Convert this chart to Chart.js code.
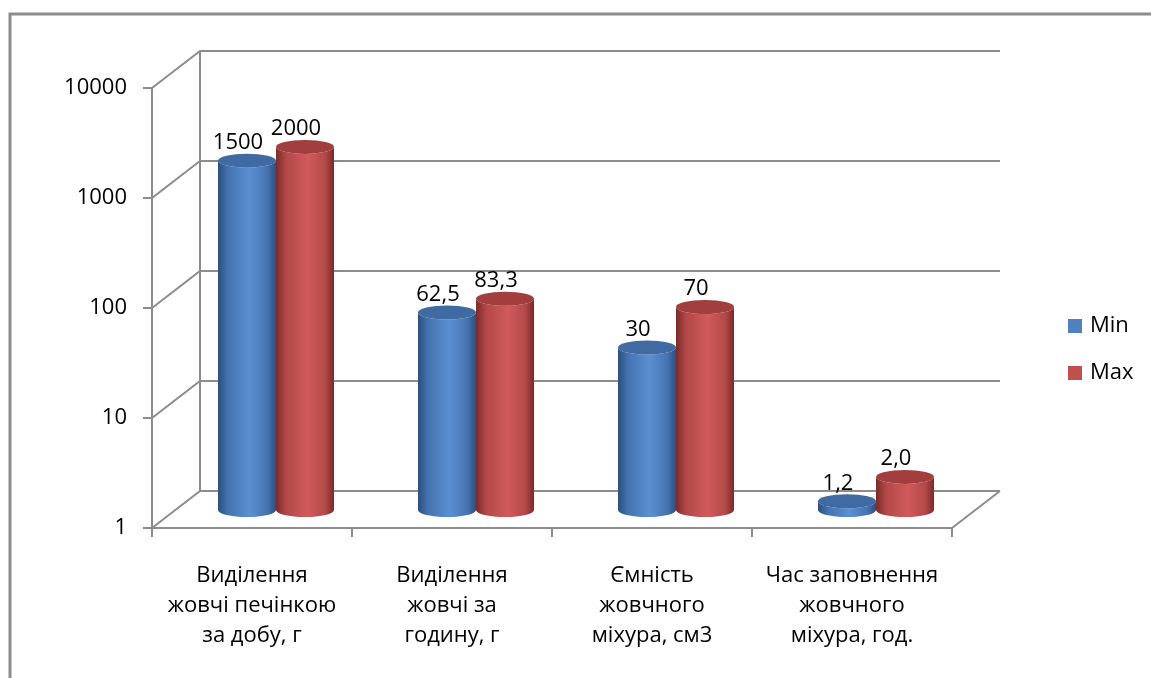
<!DOCTYPE html>
<html>
<head>
<meta charset="utf-8">
<script src="https://cdn.jsdelivr.net/npm/chart.js@4"></script>
<style>
  body { margin: 0; background: #fff; }
  #wrap { width: 1151px; height: 678px; }
</style>
</head>
<body>
<div id="wrap"><canvas id="chart1" width="1151" height="678"></canvas></div>
<script>
var categories = [
    ['Виділення', 'жовчі печінкою', 'за добу, г'],
    ['Виділення', 'жовчі за', 'годину, г'],
    ['Ємність', 'жовчного', 'міхура, см3'],
    ['Час заповнення', 'жовчного', 'міхура, год.']
];
var minValues = [1500, 62.5, 30, 1.2];
var maxValues = [2000, 83.3, 70, 2.0];
var minLabels = ['1500', '62,5', '30', '1,2'];
var maxLabels = ['2000', '83,3', '70', '2,0'];
var yTicks = [1, 10, 100, 1000, 10000];

var FONT = '"Open Sans", "Noto Sans", sans-serif';
var FSIZE = 22;
var GRAY = '#8c8c8c';
var DX = 24, DY = -18;   // offset of the bar plane from the front axis
var BX = 48, BY = -37;   // offset of the back wall

function cylGradient(ctx, left, right, dark, mid, light) {
    var g = ctx.createLinearGradient(left, 0, right, 0);
    g.addColorStop(0, dark);
    g.addColorStop(0.18, mid);
    g.addColorStop(0.55, light);
    g.addColorStop(0.85, mid);
    g.addColorStop(1, dark);
    return g;
}

var colors = [
    { dark: '#2c4f7e', mid: '#4674b2', light: '#5b8fd2', cap: '#3f6aa2' },
    { dark: '#7a2a2a', mid: '#b44848', light: '#d05b5b', cap: '#a23f3e' }
];

var box3d = {
    id: 'box3d',
    beforeDraw: function(chart) {
        var ctx = chart.ctx;
        ctx.save();
        ctx.strokeStyle = GRAY;
        ctx.lineWidth = 3;
        ctx.beginPath();
        ctx.moveTo(10, 678);
        ctx.lineTo(10, 14);
        ctx.lineTo(1151, 14);
        ctx.stroke();
        ctx.restore();
    },
    beforeDatasetsDraw: function(chart) {
        var ctx = chart.ctx;
        var y = chart.scales.y;
        var area = chart.chartArea;
        ctx.save();
        ctx.strokeStyle = GRAY;
        ctx.lineWidth = 2;
        // back wall gridlines and side diagonals
        ctx.beginPath();
        yTicks.forEach(function(v) {
            var py = y.getPixelForValue(v);
            ctx.moveTo(area.left, py);
            ctx.lineTo(area.left + BX, py + BY);
            ctx.lineTo(area.right + BX, py + BY);
        });
        ctx.moveTo(area.left + BX, y.getPixelForValue(yTicks[0]) + BY);
        ctx.lineTo(area.left + BX, y.getPixelForValue(yTicks[yTicks.length - 1]) + BY);
        // floor right edge
        ctx.moveTo(area.right, area.bottom);
        ctx.lineTo(area.right + BX, area.bottom + BY);
        ctx.stroke();

        // cylinders
        var ry = 7;
        var n = chart.data.labels.length;
        for (var j = 0; j < n; j++) {
            for (var i = 0; i < chart.data.datasets.length; i++) {
                var el = chart.getDatasetMeta(i).data[j];
                var c = colors[i];
                var left = el.x - el.width / 2 + DX;
                var right = el.x + el.width / 2 + DX;
                var cx = (left + right) / 2;
                var rx = el.width / 2;
                var top = el.y + DY;
                var bot = el.base + DY;
                ctx.beginPath();
                ctx.moveTo(left, top);
                ctx.lineTo(left, bot);
                ctx.ellipse(cx, bot, rx, ry, 0, Math.PI, 0, true);
                ctx.lineTo(right, top);
                ctx.ellipse(cx, top, rx, ry, 0, 0, Math.PI, false);
                ctx.closePath();
                ctx.fillStyle = cylGradient(ctx, left, right, c.dark, c.mid, c.light);
                ctx.fill();
                ctx.beginPath();
                ctx.ellipse(cx, top, rx, ry, 0, 0, Math.PI * 2);
                ctx.fillStyle = c.cap;
                ctx.fill();
            }
        }

        // value labels
        ctx.fillStyle = '#000';
        ctx.font = FSIZE + 'px ' + FONT;
        ctx.textAlign = 'center';
        ctx.textBaseline = 'middle';
        var lbls = [minLabels, maxLabels];
        for (var j2 = 0; j2 < n; j2++) {
            for (var i2 = 0; i2 < 2; i2++) {
                var e = chart.getDatasetMeta(i2).data[j2];
                ctx.fillText(lbls[i2][j2], e.x + DX - 9, e.y - 36);
            }
        }
        ctx.restore();
        return false;
    },
    afterDraw: function(chart) {
        var ctx = chart.ctx;
        ctx.save();
        ctx.font = FSIZE + 'px ' + FONT;
        ctx.textBaseline = 'middle';
        ctx.textAlign = 'left';
        chart.data.datasets.forEach(function(ds, i) {
            var yy = 326 + i * 47;
            ctx.fillStyle = ds.backgroundColor;
            ctx.fillRect(1068, yy - 7, 14, 14);
            ctx.fillStyle = '#000';
            ctx.fillText(ds.label, 1090, yy);
        });
        ctx.restore();
    }
};

var ctx1 = document.getElementById('chart1').getContext('2d');
var chart1 = new Chart(ctx1, {
    type: 'bar',
    data: {
        labels: categories,
        datasets: [{
            label: 'Min',
            data: minValues,
            backgroundColor: '#4f81bd'
        }, {
            label: 'Max',
            data: maxValues,
            backgroundColor: '#c0504d'
        }]
    },
    options: {
        responsive: false,
        animation: false,
        categoryPercentage: 0.58,
        barPercentage: 1,
        layout: { padding: { top: 88, right: 199, left: 0, bottom: 0 } },
        plugins: {
            legend: { display: false },
            tooltip: { enabled: false }
        },
        scales: {
            x: {
                afterFit: function(s) { s.height = 150; },
                grid: { offset: true, drawOnChartArea: false, color: GRAY, lineWidth: 2, tickLength: 9 },
                border: { display: true, color: GRAY, width: 2 },
                ticks: {
                    color: '#000',
                    font: { family: FONT, size: FSIZE, lineHeight: 1.36 },
                    padding: 24,
                    maxRotation: 0,
                    autoSkip: false
                }
            },
            y: {
                type: 'logarithmic',
                min: 1,
                max: 10000,
                afterFit: function(s) { s.width = 152; },
                afterBuildTicks: function(s) {
                    s.ticks = yTicks.map(function(v) { return { value: v }; });
                },
                grid: { drawOnChartArea: false, color: GRAY, lineWidth: 2, tickLength: 9 },
                border: { display: true, color: GRAY, width: 2 },
                ticks: {
                    color: '#000',
                    font: { family: FONT, size: FSIZE },
                    padding: 16,
                    callback: function(v) { return String(v); }
                }
            }
        }
    },
    plugins: [box3d]
});
</script>
</body>
</html>
